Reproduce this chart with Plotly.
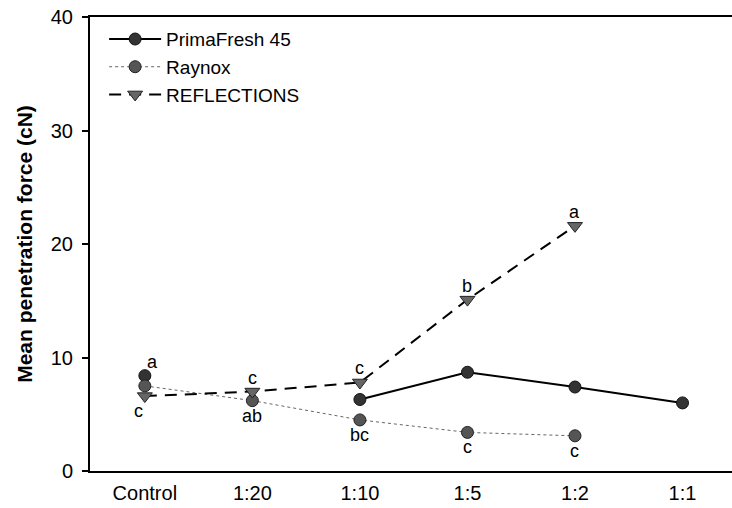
import plotly.graph_objects as go

categories = ["Control", "1:20", "1:10", "1:5", "1:2", "1:1"]
primafresh = [8.4, None, 6.3, 8.7, 7.4, 6.0]
raynox = [7.5, 6.2, 4.5, 3.4, 3.1, None]
reflections = [6.6, 7.0, 7.8, 15.1, 21.6, None]

# significance letters
letters_above = [("Control", primafresh[0], "a"), ("1:20", reflections[1], "c"),
                 ("1:10", reflections[2], "c"), ("1:5", reflections[3], "b"),
                 ("1:2", reflections[4], "a")]
letters_below = [("Control", reflections[0], "c"), ("1:20", raynox[1], "ab"),
                 ("1:10", raynox[2], "bc"), ("1:5", raynox[3], "c"),
                 ("1:2", raynox[4], "c")]

y_ticks = [0, 10, 20, 30, 40]

FONT = "Liberation Sans, Arial, sans-serif"

fig = go.Figure()
fig.add_trace(go.Scatter(
    x=categories, y=primafresh, name="PrimaFresh 45", mode="lines+markers",
    connectgaps=False,
    line=dict(color="black", width=2),
    marker=dict(symbol="circle", size=12, color="#333333", line=dict(color="#111111", width=1))))
fig.add_trace(go.Scatter(
    x=categories, y=raynox, name="Raynox", mode="lines+markers",
    line=dict(color="#666666", width=1, dash="dot"),
    marker=dict(symbol="circle", size=12, color="#555555", line=dict(color="#222222", width=1))))
fig.add_trace(go.Scatter(
    x=categories, y=reflections, name="REFLECTIONS", mode="lines+markers",
    line=dict(color="black", width=2, dash="12px,8px"),
    marker=dict(symbol="triangle-down", size=13, color="#666666", line=dict(color="#222222", width=1))))

for cat, val, txt in letters_above:
    xs = 8 if cat == "Control" else 0
    fig.add_annotation(x=cat, y=val, text=txt, showarrow=False, yshift=14, xshift=xs,
                       font=dict(family=FONT, size=18, color="black"))
for cat, val, txt in letters_below:
    xs = -6 if cat == "Control" else 0
    fig.add_annotation(x=cat, y=val, text=txt, showarrow=False, yshift=-15, xshift=xs,
                       font=dict(family=FONT, size=18, color="black"))

fig.update_layout(
    width=732, height=508,
    margin=dict(l=90, r=0, t=17, b=37),
    paper_bgcolor="white", plot_bgcolor="white",
    font=dict(family=FONT, size=20, color="black"),
    showlegend=True,
    legend=dict(x=0.022, y=0.993, xanchor="left", yanchor="top",
                bgcolor="rgba(0,0,0,0)", font=dict(size=19, family=FONT),
                itemwidth=52, tracegroupgap=0),
    xaxis=dict(
        type="category", categoryorder="array", categoryarray=categories,
        range=[-0.51, 5.46], showgrid=False, zeroline=False,
        showline=True, linecolor="black", linewidth=2, mirror=True,
        ticks="", tickfont=dict(size=20, family=FONT), ticklabelstandoff=3,
    ),
    yaxis=dict(
        range=[0, 40], tickvals=y_ticks, showgrid=False, zeroline=False,
        showline=True, linecolor="black", linewidth=2,
        ticks="outside", ticklen=6, tickwidth=2, tickcolor="black",
        tickfont=dict(size=20, family=FONT), ticklabelstandoff=5,
        title=dict(text="<b>Mean penetration force (cN)</b>", font=dict(size=21, family=FONT), standoff=12),
    ),
)

fig.write_html("out.html")
